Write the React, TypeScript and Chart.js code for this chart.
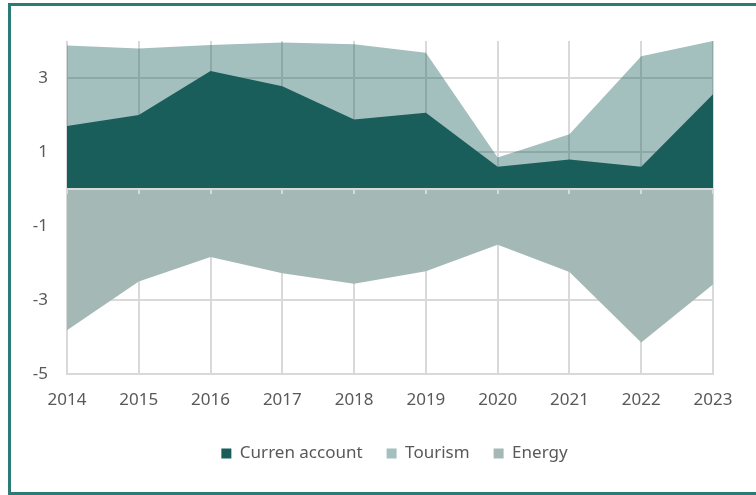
import React, { useEffect, useRef } from "react";
import { Chart, registerables } from "chart.js";

Chart.register(...registerables);

const years = ["2014", "2015", "2016", "2017", "2018", "2019", "2020", "2021", "2022", "2023"];
const currentAccount = [1.7, 2.0, 3.19, 2.78, 1.88, 2.06, 0.6, 0.8, 0.6, 2.56];
const tourism = [3.88, 3.8, 3.89, 3.96, 3.91, 3.68, 0.85, 1.48, 3.59, 4.0];
const energy = [-3.82, -2.5, -1.84, -2.28, -2.56, -2.22, -1.51, -2.24, -4.15, -2.58];
const yTicks = [-5, -3, -1, 1, 3];
const seriesNames = ["Curren account", "Tourism", "Energy"];

export default function App() {
  const ref = useRef<HTMLCanvasElement | null>(null);

  useEffect(() => {
    if (!ref.current) return;
    Chart.defaults.font.family = "'Noto Sans', sans-serif";
    Chart.defaults.font.size = 17;
    Chart.defaults.color = "#595959";
    const grid = "#d9d9d9";
    const chart = new Chart(ref.current, {
      type: "line",
      data: {
        labels: years,
        datasets: [
          {
            label: seriesNames[0],
            data: currentAccount,
            backgroundColor: "#1a5e5c",
            borderColor: "rgba(0,0,0,0)",
            borderWidth: 0,
            fill: "origin",
            pointRadius: 0,
            tension: 0,
          },
          {
            label: seriesNames[1],
            data: tourism,
            backgroundColor: "rgba(26,94,92,0.4)",
            borderColor: "rgba(0,0,0,0)",
            borderWidth: 0,
            fill: "origin",
            pointRadius: 0,
            tension: 0,
          },
          {
            label: seriesNames[2],
            data: energy,
            backgroundColor: "#a4b9b6",
            borderColor: "rgba(0,0,0,0)",
            borderWidth: 0,
            fill: "origin",
            pointRadius: 0,
            tension: 0,
          },
        ],
      },
      options: {
        responsive: false,
        animation: false,
        layout: { padding: { top: 35, left: 10, right: 0, bottom: 20 } },
        plugins: {
          tooltip: { enabled: false },
          legend: {
            position: "bottom",
            labels: { boxWidth: 10, boxHeight: 10, padding: 24, color: "#595959", font: { size: 17 } },
          },
        },
        scales: {
          x: {
            type: "category",
            offset: false,
            grid: { color: grid, lineWidth: 2, drawTicks: false },
            border: { display: true, color: grid, width: 2 },
            ticks: { padding: 16, maxRotation: 0, autoSkip: false, color: "#595959" },
            afterFit: (s: any) => {
              s.height = 47;
            },
          },
          x0: {
            type: "category",
            axis: "x",
            position: { y: 0 },
            offset: false,
            grid: { drawOnChartArea: false, drawTicks: true, tickLength: 4, color: grid, lineWidth: 2, z: 1 },
            border: { display: true, color: grid, width: 2, z: 1 },
            ticks: { display: false },
          },
          y: {
            type: "linear",
            min: -5,
            max: 4,
            grid: { color: grid, lineWidth: 2, drawTicks: false },
            border: { display: false },
            ticks: { padding: 19, color: "#595959" },
            afterBuildTicks: (s: any) => {
              s.ticks = yTicks.map((v) => ({ value: v }));
            },
            afterFit: (s: any) => {
              s.width = 46;
            },
          },
          yR: {
            type: "linear",
            position: "right",
            display: true,
            grid: { display: false },
            border: { display: false },
            ticks: { display: false },
            afterFit: (s: any) => {
              s.width = 55;
            },
          },
        },
      } as any,
    });
    return () => chart.destroy();
  }, []);

  return (
    <div style={{ position: "fixed", left: 0, top: 0, width: 756, height: 495, overflow: "hidden", background: "#fff" }}>
      <div
        style={{
          position: "absolute",
          left: 8,
          top: 3,
          width: 757,
          height: 486,
          border: "3px solid #2b7c77",
          boxSizing: "content-box",
        }}
      >
        <canvas ref={ref} width={757} height={486} style={{ display: "block" }} />
      </div>
    </div>
  );
}
